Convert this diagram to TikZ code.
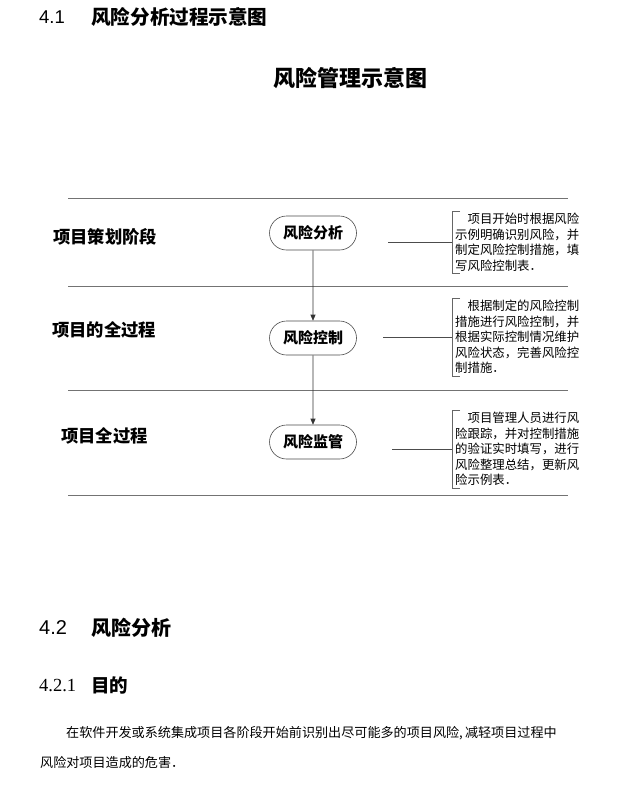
\documentclass[tikz,border=0pt]{standalone}
\usepackage{fontspec}
\setmainfont{Liberation Serif}
\newfontfamily\cjk{Noto Sans CJK SC}
\newfontfamily\arialf{Liberation Sans}
\usetikzlibrary{arrows.meta,shapes.misc}
\begin{document}
\begin{tikzpicture}[x=1pt,y=-1pt,
  sepline/.style={draw=black!55,line width=0.8pt},
  stad/.style={rounded rectangle,draw=black!70,line width=0.6pt,minimum width=87pt,minimum height=34pt,inner sep=0pt,font=\cjk\fontsize{15}{15}\selectfont\bfseries},
  phase/.style={anchor=west,inner sep=0pt,font=\cjk\fontsize{17.3}{17.3}\selectfont\bfseries},
  note/.style={anchor=west,align=left,inner xsep=3pt,inner ysep=2pt,font=\cjk\fontsize{12.4}{15.5}\selectfont},
  bracket/.style={draw=black!60,line width=0.6pt},
  link/.style={draw=black!70,line width=0.6pt},
  flow/.style={draw=black!80,line width=0.6pt,-{Triangle[length=6pt,width=5pt]}}]
\useasboundingbox (0,0) rectangle (636,788);
\fill[white] (0,0) rectangle (636,788);
% headers
\node[anchor=west,inner sep=0pt,font=\arialf\fontsize{18.5}{18.5}\selectfont] (h41) at (39,17) {4.1};
\node[anchor=west,inner sep=0pt,font=\cjk\fontsize{19.6}{19.6}\selectfont\bfseries] (h41t) at (91,17) {风险分析过程示意图};
\node[inner sep=0pt,font=\cjk\fontsize{22}{22}\selectfont\bfseries] (title) at (350,78) {风险管理示意图};
% separator lines
\coordinate (l1a) at (68,198); \coordinate (l1b) at (568,198);
\coordinate (l2a) at (68,286); \coordinate (l2b) at (568,286);
\coordinate (l3a) at (68,390); \coordinate (l3b) at (568,390);
\coordinate (l4a) at (68,495); \coordinate (l4b) at (568,495);
\draw[sepline] (l1a) -- (l1b);
\draw[sepline] (l2a) -- (l2b);
\draw[sepline] (l3a) -- (l3b);
\draw[sepline] (l4a) -- (l4b);
% phase labels
\node[phase] (p1) at (53,237) {项目策划阶段};
\node[phase] (p2) at (52,330) {项目的全过程};
\node[phase] (p3) at (61,436) {项目全过程};
% flow nodes
\node[stad] (s1) at (313,233) {风险分析};
\node[stad] (s2) at (313,338) {风险控制};
\node[stad] (s3) at (313,442) {风险监管};
\draw[flow] (s1) -- (s2);
\draw[flow] (s2) -- (s3);
% notes
\node[note] (n1) at (452,242) {\hspace{1em}项目开始时根据风险\\示例明确识别风险，并\\制定风险控制措施，填\\写风险控制表．};
\node[note] (n2) at (452,337) {\hspace{1em}根据制定的风险控制\\措施进行风险控制，并\\根据实际控制情况维护\\风险状态，完善风险控\\制措施．};
\node[note] (n3) at (452,449) {\hspace{1em}项目管理人员进行风\\险跟踪，并对控制措施\\的验证实时填写，进行\\风险整理总结，更新风\\险示例表．};
\foreach \n in {n1,n2,n3}{
  \draw[bracket] ([xshift=8pt]\n.north west) -- (\n.north west) -- (\n.south west) -- ([xshift=8pt]\n.south west);
}
\coordinate (c1) at (388,242);
\coordinate (c2) at (383,337);
\coordinate (c3) at (392,449);
\draw[link] (c1) -- (n1.west);
\draw[link] (c2) -- (n2.west);
\draw[link] (c3) -- (n3.west);
% bottom text
\node[anchor=west,inner sep=0pt,font=\arialf\fontsize{20}{20}\selectfont] (h42) at (39,628) {4.2};
\node[anchor=west,inner sep=0pt,font=\cjk\fontsize{20}{20}\selectfont\bfseries] (h42t) at (91,628) {风险分析};
\node[anchor=west,inner sep=0pt,font=\fontsize{18.5}{18.5}\selectfont] (h421) at (39,685) {4.2.1};
\node[anchor=west,inner sep=0pt,font=\cjk\fontsize{18.5}{18.5}\selectfont\bfseries] (h421t) at (91,685) {目的};
\node[anchor=west,inner sep=0pt,font=\cjk\fontsize{13.1}{13.1}\selectfont] (para1) at (66,733) {在软件开发或系统集成项目各阶段开始前识别出尽可能多的项目风险,\,减轻项目过程中};
\node[anchor=west,inner sep=0pt,font=\cjk\fontsize{13.1}{13.1}\selectfont] (para2) at (40,763) {风险对项目造成的危害．};
\end{tikzpicture}
\end{document}
